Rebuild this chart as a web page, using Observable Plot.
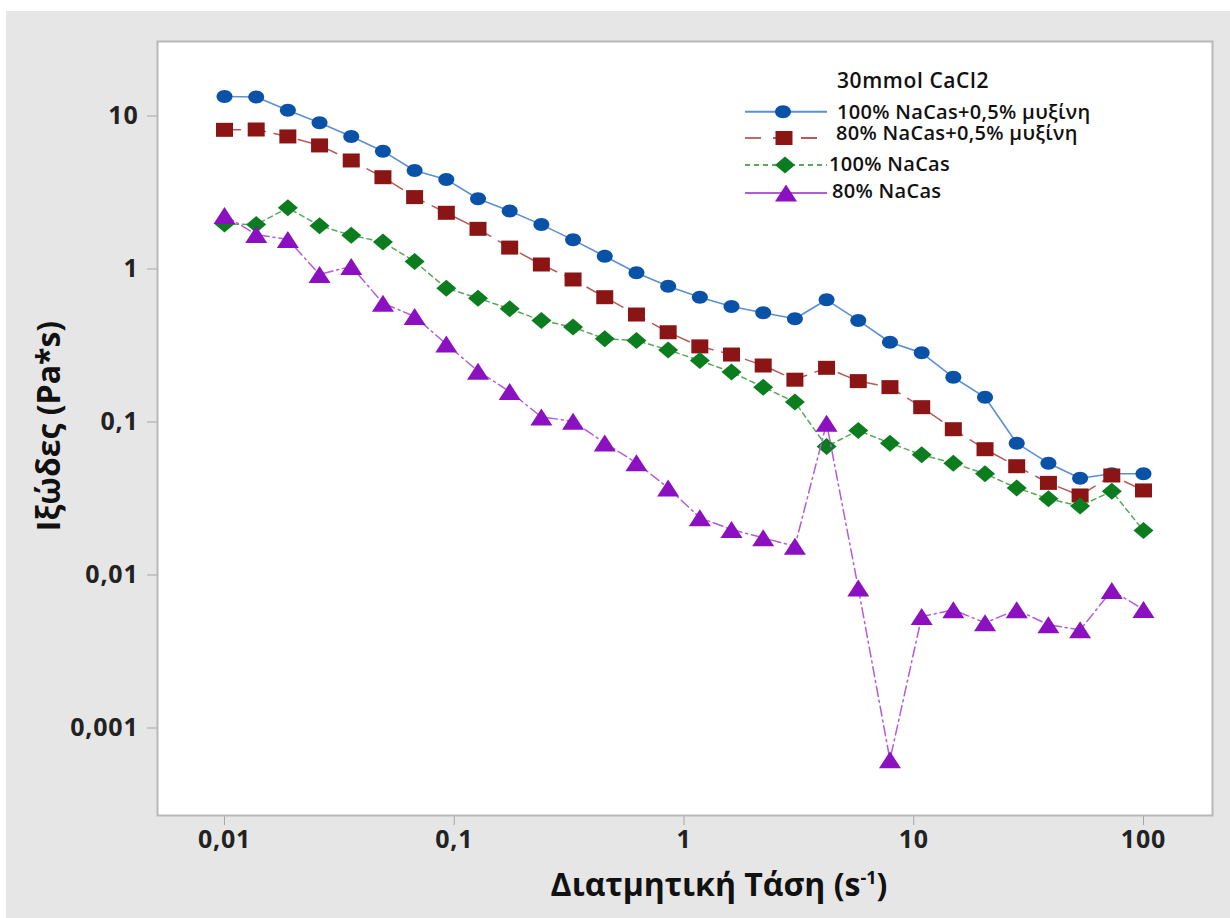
<!DOCTYPE html>
<html><head><meta charset="utf-8">
<script src="https://cdn.jsdelivr.net/npm/d3@7"></script>
<script src="https://cdn.jsdelivr.net/npm/@observablehq/plot@0.6"></script>
<style>
html,body{margin:0;padding:0;background:#fff;}
#wrap{position:absolute;left:6px;top:11px;width:1224px;height:907px;background:#e6e6e6;}
</style></head><body><div id="wrap"></div>
<script>
// Shear rate (s^-1) – x categories
const shearRate = [0.01, 0.01374, 0.01887, 0.02593, 0.03562, 0.04894, 0.06723, 0.09237, 0.1269, 0.1743,
  0.2395, 0.3290, 0.4520, 0.6210, 0.8532, 1.172, 1.610, 2.212, 3.039, 4.175,
  5.736, 7.880, 10.83, 14.87, 20.43, 28.07, 38.57, 52.98, 72.79, 100];
// Viscosity (Pa*s) series
const visc100Muc = [13.4, 13.3, 10.9, 9.03, 7.35, 5.89, 4.40, 3.85, 2.88, 2.39, 1.95, 1.55, 1.21, 0.944, 0.772,
  0.654, 0.569, 0.517, 0.473, 0.629, 0.461, 0.332, 0.283, 0.196, 0.145, 0.0727, 0.0538, 0.0429, 0.0459, 0.0459];
const visc80Muc = [8.12, 8.16, 7.35, 6.42, 5.12, 3.98, 2.95, 2.33, 1.83, 1.38, 1.07, 0.854, 0.654, 0.504, 0.386,
  0.312, 0.276, 0.234, 0.189, 0.226, 0.185, 0.169, 0.125, 0.0897, 0.0664, 0.0514, 0.0400, 0.0331, 0.0447, 0.0357];
const visc100 = [1.97, 1.95, 2.51, 1.92, 1.66, 1.50, 1.12, 0.749, 0.645, 0.549, 0.461, 0.417, 0.350, 0.341, 0.296,
  0.252, 0.212, 0.169, 0.135, 0.0692, 0.0880, 0.0727, 0.0610, 0.0538, 0.0459, 0.0371, 0.0315, 0.0282, 0.0353, 0.0195];
const visc80 = [2.24, 1.68, 1.56, 0.921, 1.04, 0.598, 0.489, 0.323, 0.215, 0.158, 0.108, 0.101, 0.0729, 0.0541, 0.0371,
  0.0237, 0.0198, 0.0175, 0.0154, 0.0982, 0.00822, 0.00062, 0.00535, 0.00592, 0.00487, 0.00592, 0.00473, 0.00438, 0.00792, 0.00595];
const seriesNames = ["100% NaCas+0,5% μυξίνη", "80% NaCas+0,5% μυξίνη", "100% NaCas", "80% NaCas"];
const legendTitle = "30mmol CaCl2";
const xTicks = [0.01, 0.1, 1, 10, 100];
const xTickLabels = ["0,01", "0,1", "1", "10", "100"];
const yTicks = [0.001, 0.01, 0.1, 1, 10];
const yTickLabels = ["0,001", "0,01", "0,1", "1", "10"];
const xTitleMain = "Διατμητική Τάση (s";
const xTitleSup = "-1";
const xTitleEnd = ")";
const yTitle = "Ιξώδες (Pa*s)";

// custom marker shapes
const ellipseSym = {draw(c){const a=8,b=6.5,k=0.5523;c.moveTo(a,0);c.bezierCurveTo(a,b*k,a*k,b,0,b);c.bezierCurveTo(-a*k,b,-a,b*k,-a,0);c.bezierCurveTo(-a,-b*k,-a*k,-b,0,-b);c.bezierCurveTo(a*k,-b,a,-b*k,a,0);c.closePath();}};
const squareSym = {draw(c){c.moveTo(-8.5,-7);c.lineTo(8.5,-7);c.lineTo(8.5,7);c.lineTo(-8.5,7);c.closePath();}};
const diamondSym = {draw(c){c.moveTo(0,-8.5);c.lineTo(10,0);c.lineTo(0,8.5);c.lineTo(-10,0);c.closePath();}};
const triangleSym = {draw(c){c.moveTo(0,-8.5);c.lineTo(11,8.5);c.lineTo(-11,8.5);c.closePath();}};

const styles = [
  {vals: visc100Muc, line: "#5b8fd6", width: 1.6, dash: null, legendDash: null, fill: "#0a52a8", sym: ellipseSym},
  {vals: visc80Muc, line: "#b65a5a", width: 1.5, dash: "16,9", legendDash: "16,12", fill: "#8b1414", sym: squareSym},
  {vals: visc100, line: "#5aa85a", width: 1.5, dash: "5,4", legendDash: "5,4", fill: "#0b7d1f", sym: diamondSym},
  {vals: visc80, line: "#b65ad8", width: 1.5, dash: "10,4,2,4", legendDash: null, fill: "#8a10c0", sym: triangleSym}
];

const marks = [Plot.frame({fill: "white"})];
styles.forEach((s, k) => {
  const rows = shearRate.map((x, i) => ({rate: x, visc: s.vals[i], series: seriesNames[k]}));
  marks.push(Plot.line(rows, {x: "rate", y: "visc", stroke: s.line, strokeWidth: s.width, strokeDasharray: s.dash}));
  marks.push(Plot.dot(rows, {x: "rate", y: "visc", symbol: s.sym, r: 6, fill: s.fill, stroke: "none"}));
});
marks.push(Plot.axisX(xTicks, {anchor: "bottom", tickSize: 10, tickPadding: 5, tickFormat: d => xTickLabels[xTicks.indexOf(d)], stroke: "#a6a6a6", fill: "#222", fontSize: 25, fontWeight: "bold", label: null}));
marks.push(Plot.axisY(yTicks, {anchor: "left", tickSize: 10, tickPadding: 9, tickFormat: d => yTickLabels[yTicks.indexOf(d)], stroke: "#a6a6a6", fill: "#222", fontSize: 25, fontWeight: "bold", label: null}));
marks.push(Plot.frame({stroke: "#b8b8b8", strokeWidth: 2}));

const chart = Plot.plot({
  width: 1224, height: 907,
  marginLeft: 151, marginTop: 30, marginRight: 18, marginBottom: 103,
  style: {background: "transparent", fontFamily: "'Open Sans', sans-serif"},
  x: {type: "log", domain: [0.00511, 199.7]},
  y: {type: "log", domain: [0.000268, 30.68]},
  marks
});
document.getElementById("wrap").appendChild(chart);

const svg = d3.select(chart);
svg.selectAll("g[aria-label='x-axis tick label'] text, g[aria-label='y-axis tick label'] text").attr("letter-spacing", "0.8px");
// axis titles
const xt = svg.append("text").attr("x", 713).attr("y", 885).attr("text-anchor", "middle")
  .attr("font-family", "'Open Sans', sans-serif").attr("font-weight", "bold").attr("font-size", 32).attr("fill", "#111");
xt.append("tspan").text(xTitleMain);
xt.append("tspan").attr("dy", -12).attr("font-size", 18).text(xTitleSup);
xt.append("tspan").attr("dy", 12).text(xTitleEnd);
svg.append("text").attr("transform", "translate(54,415) rotate(-90)").attr("text-anchor", "middle")
  .attr("font-family", "'Open Sans', sans-serif").attr("font-weight", "bold").attr("font-size", 32).attr("fill", "#111")
  .text(yTitle);

// legend
const lg = svg.append("g").attr("font-family", "'Open Sans', sans-serif").attr("fill", "#111").attr("text-anchor", "start");
lg.append("text").attr("x", 831).attr("y", 70).attr("dy", "0.35em").attr("font-size", 21).attr("font-weight", 600).attr("letter-spacing", "0.6px").text(legendTitle);
const lineY = [100.7, 127, 154, 182];
const textY = [101, 122, 153, 179.6];
const textX = [831, 830, 823, 826];
const markX = [777, 778, 779, 780];
styles.forEach((s, k) => {
  lg.append("line").attr("x1", 739).attr("x2", 821).attr("y1", lineY[k]).attr("y2", lineY[k])
    .attr("stroke", s.line).attr("stroke-width", s.width + 0.3).attr("stroke-dasharray", s.legendDash);
  lg.append("path").attr("d", d3.symbol(s.sym)()).attr("transform", `translate(${markX[k]},${lineY[k]})`).attr("fill", s.fill);
  lg.append("text").attr("x", textX[k]).attr("y", textY[k]).attr("dy", "0.35em").attr("font-size", 20).attr("font-weight", 600).attr("letter-spacing", "0.3px").text(seriesNames[k]);
});
</script></body></html>
